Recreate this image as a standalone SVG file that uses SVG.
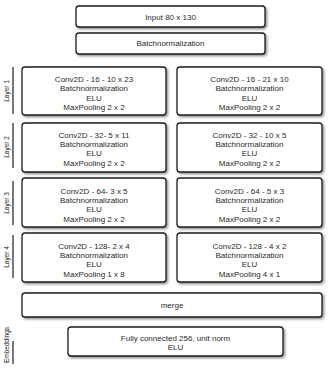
<svg xmlns="http://www.w3.org/2000/svg" width="332" height="378" viewBox="0 0 332 378">
<defs>
<filter id="sh" x="-10%" y="-20%" width="125%" height="150%">
<feDropShadow dx="1.5" dy="1.5" stdDeviation="1" flood-color="#000" flood-opacity="0.45"/>
</filter>
<style>
.box{fill:#fff;stroke:#1e1e1e;stroke-width:1.3;filter:url(#sh)}
.t{font-family:"Liberation Sans",Arial,sans-serif;font-size:8px;fill:#2a2a2a;text-anchor:middle}
.lab{font-family:"Liberation Sans Narrow","Liberation Sans",Arial,sans-serif;font-size:6.5px;fill:#222;text-anchor:middle}
.sep{stroke:#1e1e1e;stroke-width:1.2}
</style>
</defs>
<rect width="332" height="378" fill="#fff"/>
<g id="labels">
<line class="sep" x1="13" y1="67" x2="13" y2="114"/>
<text class="lab" transform="translate(8.5,91) rotate(-90)">Layer 1</text>
<line class="sep" x1="13" y1="123" x2="13" y2="168"/>
<text class="lab" transform="translate(8.5,147) rotate(-90)">Layer 2</text>
<line class="sep" x1="13" y1="181" x2="13" y2="225"/>
<text class="lab" transform="translate(8.5,203) rotate(-90)">Layer 3</text>
<line class="sep" x1="13" y1="235" x2="13" y2="278"/>
<text class="lab" transform="translate(8.5,257) rotate(-90)">Layer 4</text>
<line class="sep" x1="13" y1="341" x2="13" y2="364"/>
<text class="lab" transform="translate(8.5,345) rotate(-90)">Embeddings</text>
</g>
<g id="connectors"></g>
<g id="input"><rect class="box" x="76" y="6" width="189" height="21" rx="3"/><text class="t" x="170.5" y="19.5">Input 80 x 130</text></g>
<g id="batchnorm"><rect class="box" x="76" y="33" width="189" height="21" rx="3"/><text class="t" x="170.5" y="46">Batchnormalization</text></g>
<g id="l1a"><rect class="box" x="22" y="67" width="144" height="48" rx="3"/>
<text class="t" x="94" y="82">Conv2D - 16 - 10 x 23</text><text class="t" x="94" y="91.3">Batchnormalization</text><text class="t" x="94" y="100.6">ELU</text><text class="t" x="94" y="110">MaxPooling 2 x 2</text></g>
<g id="l1b"><rect class="box" x="177" y="67" width="145" height="48" rx="3"/>
<text class="t" x="249.5" y="82">Conv2D - 16 - 21 x 10</text><text class="t" x="249.5" y="91.3">Batchnormalization</text><text class="t" x="249.5" y="100.6">ELU</text><text class="t" x="249.5" y="110">MaxPooling 2 x 2</text></g>
<g id="l2a"><rect class="box" x="22" y="123" width="144" height="49" rx="3"/>
<text class="t" x="94" y="137.5">Conv2D - 32- 5 x 11</text><text class="t" x="94" y="146.8">Batchnormalization</text><text class="t" x="94" y="156.1">ELU</text><text class="t" x="94" y="165.5">MaxPooling 2 x 2</text></g>
<g id="l2b"><rect class="box" x="177" y="123" width="145" height="49" rx="3"/>
<text class="t" x="249.5" y="137.5">Conv2D - 32 - 10 x 5</text><text class="t" x="249.5" y="146.8">Batchnormalization</text><text class="t" x="249.5" y="156.1">ELU</text><text class="t" x="249.5" y="165.5">MaxPooling 2 x 2</text></g>
<g id="l3a"><rect class="box" x="22" y="178" width="144" height="49" rx="3"/>
<text class="t" x="94" y="193.5">Conv2D - 64- 3 x 5</text><text class="t" x="94" y="202.8">Batchnormalization</text><text class="t" x="94" y="212.1">ELU</text><text class="t" x="94" y="221.5">MaxPooling 2 x 2</text></g>
<g id="l3b"><rect class="box" x="177" y="178" width="145" height="49" rx="3"/>
<text class="t" x="249.5" y="193.5">Conv2D - 64 - 5 x 3</text><text class="t" x="249.5" y="202.8">Batchnormalization</text><text class="t" x="249.5" y="212.1">ELU</text><text class="t" x="249.5" y="221.5">MaxPooling 2 x 2</text></g>
<g id="l4a"><rect class="box" x="22" y="233" width="144" height="49" rx="3"/>
<text class="t" x="94" y="248.5">Conv2D - 128- 2 x 4</text><text class="t" x="94" y="257.8">Batchnormalization</text><text class="t" x="94" y="267.1">ELU</text><text class="t" x="94" y="276.5">MaxPooling 1 x 8</text></g>
<g id="l4b"><rect class="box" x="177" y="233" width="145" height="49" rx="3"/>
<text class="t" x="249.5" y="248.5">Conv2D - 128 - 4 x 2</text><text class="t" x="249.5" y="257.8">Batchnormalization</text><text class="t" x="249.5" y="267.1">ELU</text><text class="t" x="249.5" y="276.5">MaxPooling 4 x 1</text></g>
<g id="merge"><rect class="box" x="22" y="293" width="300" height="24" rx="3"/><text class="t" x="172" y="308">merge</text></g>
<g id="fc"><rect class="box" x="68" y="327" width="215" height="29" rx="3"/>
<text class="t" x="175.5" y="340.5">Fully connected 256, unit norm</text><text class="t" x="175.5" y="350">ELU</text></g>
</svg>
